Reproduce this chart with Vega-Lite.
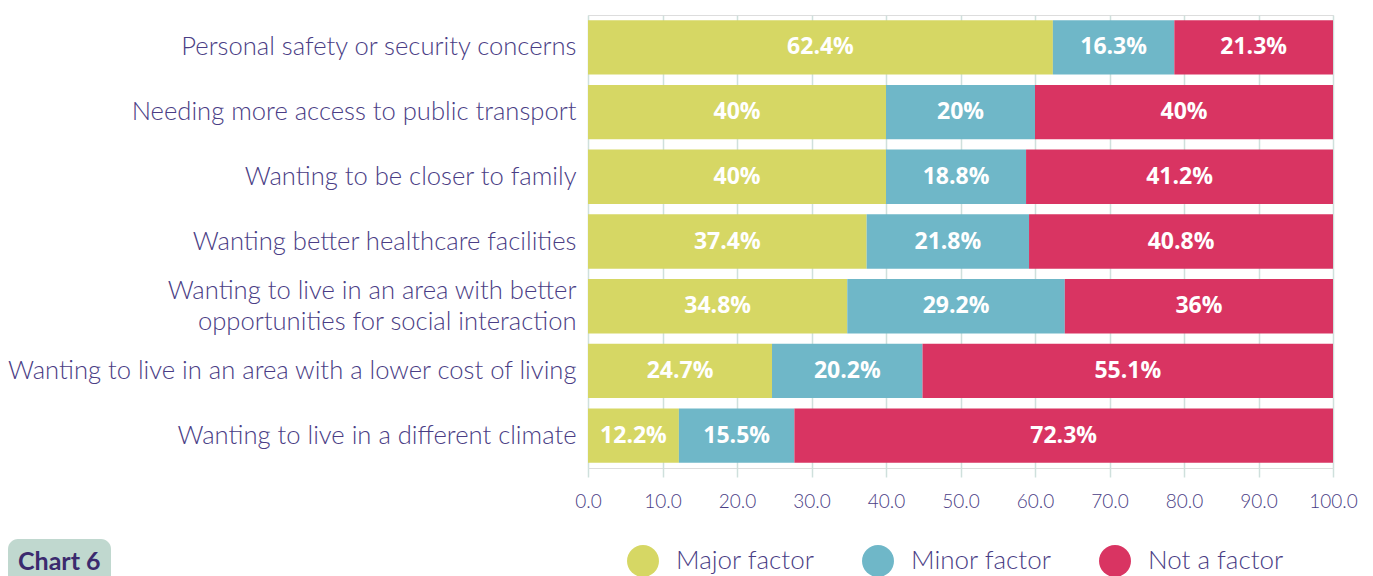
{
  "$schema": "https://vega.github.io/schema/vega-lite/v6.json",
  "autosize": "none",
  "width": 745,
  "height": 453,
  "padding": {"left": 588, "top": 15, "right": 40, "bottom": 108},
  "background": "white",
  "datasets": {
    "main": [
      {"reason": "Personal safety or security concerns", "factor": "Major factor", "value": 62.4, "label": "62.4%"},
      {"reason": "Personal safety or security concerns", "factor": "Minor factor", "value": 16.3, "label": "16.3%"},
      {"reason": "Personal safety or security concerns", "factor": "Not a factor", "value": 21.3, "label": "21.3%"},
      {"reason": "Needing more access to public transport", "factor": "Major factor", "value": 40, "label": "40%"},
      {"reason": "Needing more access to public transport", "factor": "Minor factor", "value": 20, "label": "20%"},
      {"reason": "Needing more access to public transport", "factor": "Not a factor", "value": 40, "label": "40%"},
      {"reason": "Wanting to be closer to family", "factor": "Major factor", "value": 40, "label": "40%"},
      {"reason": "Wanting to be closer to family", "factor": "Minor factor", "value": 18.8, "label": "18.8%"},
      {"reason": "Wanting to be closer to family", "factor": "Not a factor", "value": 41.2, "label": "41.2%"},
      {"reason": "Wanting better healthcare facilities", "factor": "Major factor", "value": 37.4, "label": "37.4%"},
      {"reason": "Wanting better healthcare facilities", "factor": "Minor factor", "value": 21.8, "label": "21.8%"},
      {"reason": "Wanting better healthcare facilities", "factor": "Not a factor", "value": 40.8, "label": "40.8%"},
      {"reason": "Wanting to live in an area with better|opportunities for social interaction", "factor": "Major factor", "value": 34.8, "label": "34.8%"},
      {"reason": "Wanting to live in an area with better|opportunities for social interaction", "factor": "Minor factor", "value": 29.2, "label": "29.2%"},
      {"reason": "Wanting to live in an area with better|opportunities for social interaction", "factor": "Not a factor", "value": 36, "label": "36%"},
      {"reason": "Wanting to live in an area with a lower cost of living", "factor": "Major factor", "value": 24.7, "label": "24.7%"},
      {"reason": "Wanting to live in an area with a lower cost of living", "factor": "Minor factor", "value": 20.2, "label": "20.2%"},
      {"reason": "Wanting to live in an area with a lower cost of living", "factor": "Not a factor", "value": 55.1, "label": "55.1%"},
      {"reason": "Wanting to live in a different climate", "factor": "Major factor", "value": 12.2, "label": "12.2%"},
      {"reason": "Wanting to live in a different climate", "factor": "Minor factor", "value": 15.5, "label": "15.5%"},
      {"reason": "Wanting to live in a different climate", "factor": "Not a factor", "value": 72.3, "label": "72.3%"}
    ],
    "badge": [{"badge": "Chart 6"}]
  },
  "layer": [
    {
      "data": {"name": "main"},
      "mark": {"type": "bar"},
      "encoding": {
        "y": {
          "field": "reason",
          "type": "nominal",
          "sort": null,
          "scale": {"paddingInner": 0.16, "paddingOuter": 0.08},
          "axis": {
            "title": null,
            "ticks": false,
            "domain": false,
            "labelExpr": "split(datum.label, '|')",
            "labelFont": "Lato",
            "labelFontSize": 25.6,
            "labelFontWeight": 300,
            "labelColor": "#4a3d85",
            "labelPadding": 12,
            "labelLimit": 700,
            "labelLineHeight": 31,
            "labelOffset": {"condition": {"test": "indexof(datum.value, '|') >= 0", "value": -15.5}, "value": 0}
          }
        },
        "x": {
          "field": "value",
          "type": "quantitative",
          "stack": "zero",
          "scale": {"domain": [0, 100], "nice": false},
          "axis": {
            "title": null,
            "values": [0, 10, 20, 30, 40, 50, 60, 70, 80, 90, 100],
            "format": ".1f",
            "grid": true,
            "gridColor": "#cfe0dc",
            "gridWidth": 1.5,
            "ticks": true,
            "tickSize": 9,
            "tickColor": "#cfe0dc",
            "tickWidth": 1.5,
            "domain": false,
            "labelFlush": false,
            "labelFont": "Lato",
            "labelFontSize": 19,
            "labelFontWeight": 300,
            "labelColor": "#4a3d85",
            "labelPadding": 15
          }
        },
        "order": {"field": "factor", "sort": "ascending"},
        "color": {
          "field": "factor",
          "type": "nominal",
          "scale": {
            "domain": ["Major factor", "Minor factor", "Not a factor"],
            "range": ["#d6d764", "#6fb7c8", "#d93462"]
          },
          "legend": {
            "title": null,
            "orient": "none",
            "direction": "horizontal",
            "legendX": 39,
            "legendY": 530,
            "padding": 0,
            "symbolType": "circle",
            "symbolSize": 1020,
            "symbolStrokeWidth": 0,
            "symbolOpacity": 1,
            "labelFont": "Lato",
            "labelFontSize": 26,
            "labelFontWeight": 300,
            "labelColor": "#4a3d85",
            "labelOffset": 17,
            "columnPadding": 47
          }
        }
      }
    },
    {
      "data": {"name": "main"},
      "mark": {"type": "text", "color": "white", "font": "Open Sans", "fontWeight": "bold", "fontSize": 23, "baseline": "middle", "align": "center"},
      "encoding": {
        "y": {"field": "reason", "type": "nominal", "sort": null},
        "x": {"field": "value", "type": "quantitative", "stack": "zero", "bandPosition": 0.5},
        "detail": {"field": "factor"},
        "order": {"field": "factor", "sort": "ascending"},
        "text": {"field": "label"}
      }
    },
    {
      "data": {"name": "badge"},
      "mark": {"type": "point", "opacity": 0},
      "encoding": {
        "shape": {
          "field": "badge",
          "type": "nominal",
          "legend": {
            "title": null,
            "orient": "none",
            "legendX": -580,
            "legendY": 524,
            "padding": 10,
            "fillColor": "#c0d8cf",
            "cornerRadius": 10,
            "symbolSize": 0,
            "symbolOpacity": 0,
            "labelOffset": -25,
            "labelFont": "Lato",
            "labelFontSize": 25,
            "labelFontWeight": "bold",
            "labelColor": "#3b2a6e"
          }
        }
      }
    }
  ]
}
